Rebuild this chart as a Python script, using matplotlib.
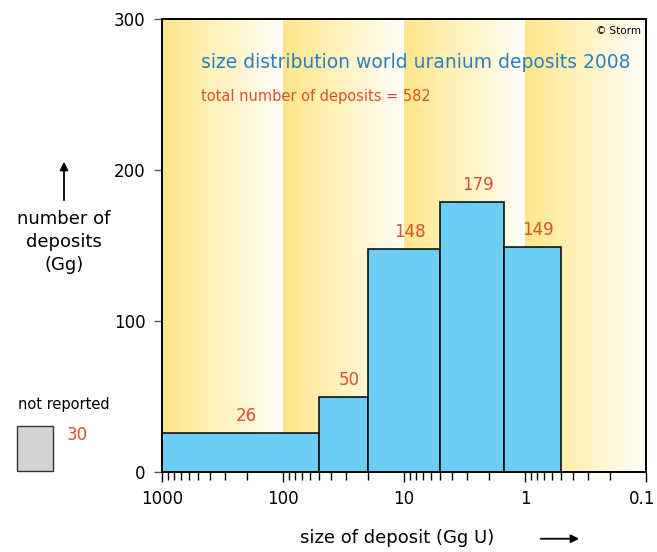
import matplotlib.pyplot as plt
import matplotlib.patches as mpatches
import matplotlib.transforms as mtransforms
from matplotlib.colors import to_rgb
import numpy as np

# size classes (Gg U), largest first, and the number of deposits in each
bin_edges = [1000, 50, 20, 5, 1.5, 0.5]
counts = [26, 50, 148, 179, 149]
not_reported = 30
total = 582

decades = [1000, 100, 10, 1, 0.1]
tick_values = [1000, 100, 10, 1, 0.1]
tick_labels = ['1000', '100', '10', '1', '0.1']

bar_color = '#6dcef5'
red = '#d9502a'
blue = '#2a80c2'

fig = plt.figure(figsize=(6.57, 5.52), dpi=100)
ax = fig.add_axes([0.2466, 0.1449, 0.7367, 0.8207])
ax.set_xscale('log')
ax.set_xlim(1000, 0.1)
ax.set_ylim(0, 300)

# yellow-to-white gradient in every decade
c0 = np.array(to_rgb('#ffe68a'))
c1 = np.array(to_rgb('#fffef8'))
n = 60
for hi, lo in zip(decades[:-1], decades[1:]):
    edges = np.logspace(np.log10(hi), np.log10(lo), n + 1)
    for i in range(n):
        t = i / (n - 1)
        ax.axvspan(edges[i], edges[i + 1], color=c0 + (c1 - c0) * t,
                   lw=0, zorder=0)

# histogram bars
for i, c in enumerate(counts):
    left, right = bin_edges[i], bin_edges[i + 1]
    ax.bar(left, c, width=right - left, align='edge', color=bar_color,
           edgecolor='black', linewidth=1.1, zorder=2)
    xm = np.sqrt(left * right)
    ax.text(xm * 0.9, c + 5, str(c), color=red, fontsize=12,
            ha='center', va='bottom', zorder=3)

ax.set_xticks(tick_values)
ax.set_xticklabels(tick_labels, fontsize=12)
ax.set_yticks([0, 100, 200, 300])
ax.set_yticklabels(['0', '100', '200', '300'], fontsize=12)
ax.tick_params(axis='x', which='major', length=7, width=1, pad=6)
ax.tick_params(axis='x', which='minor', length=6, width=1)
ax.tick_params(axis='y', length=6, width=1, color='#555555', pad=6)
for s in ax.spines.values():
    s.set_linewidth(1.4)
    s.set_zorder(4)

# keep the last tick label inside the figure
last = ax.get_xticklabels()[-1]
last.set_transform(last.get_transform() +
                   mtransforms.ScaledTranslation(-4 / 100, 0, fig.dpi_scale_trans))

ax.text(0.99, 0.985, '© Storm', transform=ax.transAxes, fontsize=7.5,
        ha='right', va='top')
ax.text(0.08, 0.905, 'size distribution world uranium deposits 2008',
        transform=ax.transAxes, fontsize=13.5, color=blue, va='center')
ax.text(0.08, 0.83, 'total number of deposits = %d' % total,
        transform=ax.transAxes, fontsize=10.5, color=red, va='center')

# axis titles with arrows
fig.text(0.604, 0.025, 'size of deposit (Gg U)', fontsize=13,
         ha='center', va='center')
fig.add_artist(mpatches.FancyArrowPatch((538 / 657, 0.024), (582 / 657, 0.024),
                                        transform=fig.transFigure,
                                        arrowstyle='-|>', mutation_scale=12,
                                        lw=1.3, color='black'))
fig.text(64 / 657, 1 - 242 / 552, 'number of\ndeposits\n(Gg)', fontsize=13,
         ha='center', va='center', linespacing=1.35)
fig.add_artist(mpatches.FancyArrowPatch((64 / 657, 1 - 203 / 552),
                                        (64 / 657, 1 - 159 / 552),
                                        transform=fig.transFigure,
                                        arrowstyle='-|>', mutation_scale=12,
                                        lw=1.3, color='black'))

# deposits without a reported size
fig.text(64 / 657, 1 - 405 / 552, 'not reported', fontsize=10.5,
         ha='center', va='center')
fig.add_artist(mpatches.Rectangle((17 / 657, 1 - 471 / 552), 36 / 657, 45 / 552,
                                  transform=fig.transFigure,
                                  facecolor='#d2d3d5', edgecolor='#333333',
                                  lw=1))
fig.text(77 / 657, 1 - 435 / 552, str(not_reported), fontsize=12, color=red,
         ha='center', va='center')

fig.savefig('out.png', dpi=100)
